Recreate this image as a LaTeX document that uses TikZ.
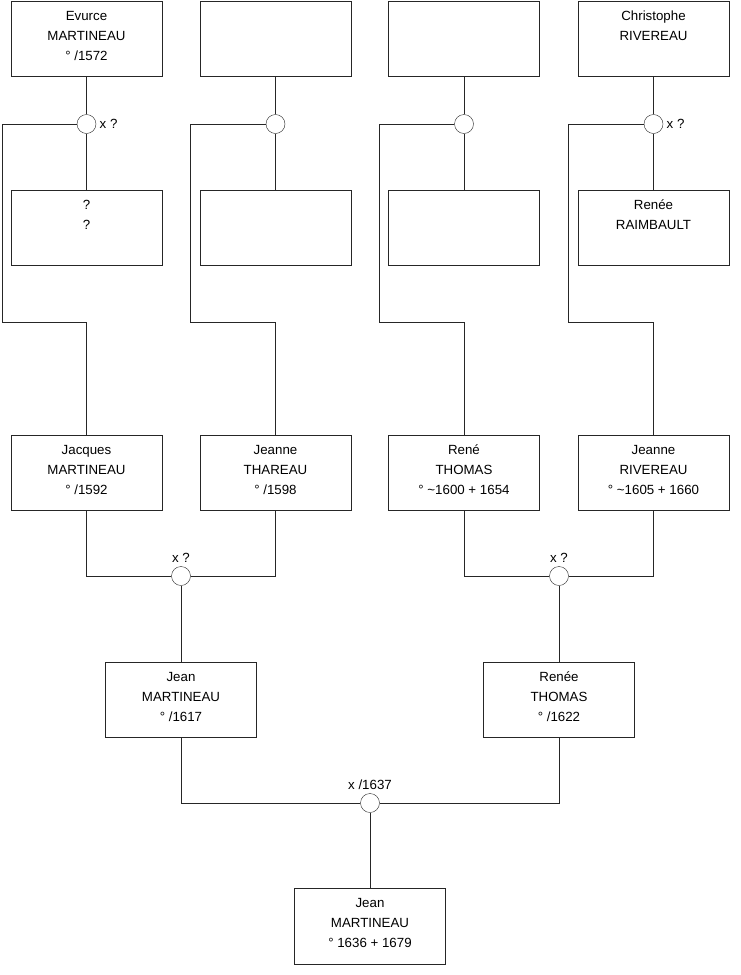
\documentclass[tikz,border=0pt]{standalone}
\usepackage{fontspec}
\setmainfont{Liberation Sans}
\usetikzlibrary{positioning}

\begin{document}
\begin{tikzpicture}[x=1pt, y=-1pt, font=\fontsize{13.3}{20}\selectfont,
        fiche/.style={draw=black!85, fill=white, minimum width=151pt, minimum height=75.5pt, align=center, inner sep=0pt,
            execute at end node={\rule[-6pt]{0pt}{0pt}}},
        union/.style={draw=black!85, circle, fill=white, minimum size=19pt, inner sep=0pt},
        lien/.style={black!85, line width=1pt}]
        \useasboundingbox (0,0) rectangle (740,975);
        % Génération 1 : pères
        \node[fiche] (pere1) at (86.5,38.5) {Evurce\\MARTINEAU\\° /1572};
        \node[fiche] (pere2) at (275.5,38.5) {};
        \node[fiche] (pere3) at (464,38.5) {};
        \node[fiche] (pere4) at (653.5,38.5) {Christophe\\RIVEREAU\\\mbox{}};
        % Mariages
        \node[union, label=right:{x ?}] (mar1) at (86.5,124) {};
        \node[union] (mar2) at (275.5,124) {};
        \node[union] (mar3) at (464,124) {};
        \node[union, label=right:{x ?}] (mar4) at (653.5,124) {};
        % Mères
        \node[fiche] (mere1) at (86.5,227.5) {?\\?\\\mbox{}};
        \node[fiche] (mere2) at (275.5,227.5) {};
        \node[fiche] (mere3) at (464,227.5) {};
        \node[fiche] (mere4) at (653.5,227.5) {Renée\\RAIMBAULT\\\mbox{}};
        % Détours vers les enfants
        \coordinate (det1) at (2,322);
        \coordinate (det2) at (190.5,322);
        \coordinate (det3) at (379,322);
        \coordinate (det4) at (568.5,322);
        % Génération 2
        \node[fiche] (enf1) at (86.5,472.5) {Jacques\\MARTINEAU\\° /1592};
        \node[fiche] (enf2) at (275.5,472.5) {Jeanne\\THAREAU\\° /1598};
        \node[fiche] (enf3) at (464,472.5) {René\\THOMAS\\° \textasciitilde1600 + 1654};
        \node[fiche] (enf4) at (653.5,472.5) {Jeanne\\RIVEREAU\\° \textasciitilde1605 + 1660};
        \foreach \i in {1,...,4} {
            \draw[lien] (pere\i) -- (mar\i);
            \draw[lien] (mar\i) -- (mere\i);
            \draw[lien] (mar\i.west) -| (det\i) -| (enf\i.north);
        }
        % Couples de la génération 2
        \node[union, label=above:{x ?}] (mar5) at (181,576) {};
        \node[union, label=above:{x ?}] (mar6) at (559,576) {};
        \draw[lien] (enf1.south) |- (mar5.west);
        \draw[lien] (enf2.south) |- (mar5.east);
        \draw[lien] (enf3.south) |- (mar6.west);
        \draw[lien] (enf4.south) |- (mar6.east);
        % Génération 3
        \node[fiche] (enf5) at (181,699.5) {Jean\\MARTINEAU\\° /1617};
        \node[fiche] (enf6) at (559,699.5) {Renée\\THOMAS\\° /1622};
        \draw[lien] (mar5) -- (enf5);
        \draw[lien] (mar6) -- (enf6);
        % Mariage final et descendant
        \node[union, label=above:{x /1637}] (mar7) at (370,803) {};
        \node[fiche] (enf7) at (370,926) {Jean\\MARTINEAU\\° 1636 + 1679};
        \draw[lien] (enf5.south) |- (mar7.west);
        \draw[lien] (enf6.south) |- (mar7.east);
        \draw[lien] (mar7) -- (enf7);
    \end{tikzpicture}
\end{document}
